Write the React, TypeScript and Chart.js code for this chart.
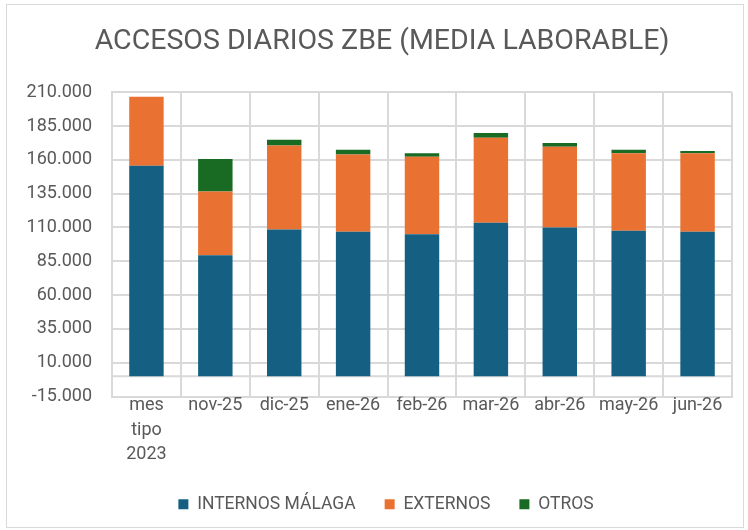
import React, { useEffect, useRef } from 'react';
import { Chart, registerables } from 'chart.js';
Chart.register(...registerables);

const categories: (string | string[])[] = [['mes', 'tipo', '2023'], 'nov-25', 'dic-25', 'ene-26', 'feb-26', 'mar-26', 'abr-26', 'may-26', 'jun-26'];
const internos = [155700, 89400, 108500, 106800, 105000, 113500, 110000, 107500, 106800];
const externos = [50900, 47200, 62100, 57100, 57200, 62800, 59600, 57400, 58100];
const otros = [0, 24100, 4200, 3500, 2700, 3500, 2800, 2500, 1700];
const seriesNames = ['INTERNOS MÁLAGA', 'EXTERNOS', 'OTROS'];
const yMin = -15000;
const yMax = 210000;
const yStep = 25000;
const titleText = 'ACCESOS DIARIOS ZBE (MEDIA LABORABLE)';

const fmt = (v: number) => {
  const s = Math.round(Math.abs(v)).toString().replace(/\B(?=(\d{3})+(?!\d))/g, '.');
  return (v < 0 ? '-' : '') + s;
};

const GRID = '#d9d9d9';
const TEXT = '#595959';

const zeroLine = {
  id: 'zeroLine',
  beforeDatasetsDraw(chart: any) {
    const { ctx, chartArea, scales } = chart;
    const y = scales.y.getPixelForValue(0);
    ctx.save();
    ctx.strokeStyle = GRID;
    ctx.lineWidth = 2;
    ctx.beginPath();
    ctx.moveTo(chartArea.left, y);
    ctx.lineTo(chartArea.right, y);
    ctx.stroke();
    ctx.restore();
  },
};

const shiftBoxes = {
  id: 'shiftBoxes',
  afterLayout(chart: any) {
    if (chart.titleBlock) {
      chart.titleBlock.left += 16;
      chart.titleBlock.right += 16;
    }
    if (chart.legend) {
      chart.legend.left += 20;
      chart.legend.right += 20;
    }
  },
};

export default function App() {
  const ref = useRef<HTMLCanvasElement>(null);
  useEffect(() => {
    if (!ref.current) return;
    const tickVals: number[] = [];
    for (let v = yMin; v <= yMax; v += yStep) tickVals.push(v);
    const chart = new Chart(ref.current, {
      type: 'bar',
      data: {
        labels: categories as any,
        datasets: [
          { label: seriesNames[0], data: internos, backgroundColor: '#156082' },
          { label: seriesNames[1], data: externos, backgroundColor: '#E97132' },
          { label: seriesNames[2], data: otros, backgroundColor: '#196B24' },
        ],
      },
      options: {
        animation: false,
        responsive: false,
        maintainAspectRatio: false,
        layout: { padding: { left: 0, right: 16, top: 0, bottom: 7 } },
        datasets: { bar: { categoryPercentage: 0.5, barPercentage: 1 } } as any,
        scales: {
          x: {
            stacked: true,
            grid: { color: GRID, lineWidth: 2, drawTicks: false, tickLength: 0, offset: true },
            border: { color: GRID, width: 2 },
            ticks: { color: TEXT, font: { family: 'Roboto', size: 18, lineHeight: 1.36 }, padding: -3, maxRotation: 0, autoSkip: false },
            afterFit: (s: any) => { s.height = 70; },
          },
          y: {
            stacked: true,
            min: yMin,
            max: yMax,
            grid: { color: GRID, lineWidth: 2, drawTicks: false, tickLength: 0 },
            border: { color: GRID, width: 2 },
            ticks: { color: TEXT, font: { family: 'Roboto', size: 18 }, padding: 20, callback: (v: any) => fmt(Number(v)) },
            afterBuildTicks: (s: any) => { s.ticks = tickVals.map((v) => ({ value: v })); },
            afterFit: (s: any) => { s.width = 112; },
          },
        },
        plugins: {
          title: {
            display: true,
            text: titleText,
            color: TEXT,
            font: { family: 'Roboto', size: 28.5, weight: 'normal' as any, lineHeight: 1.2 },
            padding: { top: 25, bottom: 33 },
          },
          legend: {
            position: 'bottom',
            labels: { color: TEXT, font: { family: 'Roboto', size: 17.5 }, boxWidth: 10, boxHeight: 10, padding: 29 },
          },
          tooltip: { enabled: false },
        },
      },
      plugins: [zeroLine, shiftBoxes],
    });
    return () => chart.destroy();
  }, []);
  return (
    <div style={{ position: 'fixed', left: 0, top: 0, width: 748, height: 530, background: '#fff' }}>
      <div style={{ position: 'absolute', left: 6, top: 4, width: 738, height: 524, border: '1px solid #d9d9d9', boxSizing: 'border-box' as any }} />
      <canvas ref={ref} width={748} height={530} style={{ position: 'absolute', left: 0, top: 0 }} />
    </div>
  );
}
